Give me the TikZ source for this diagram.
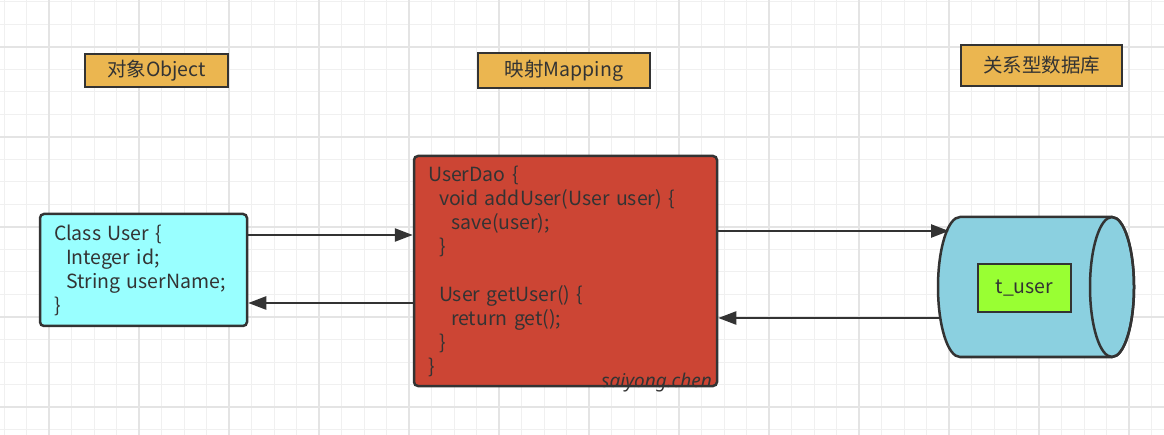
\documentclass[tikz,border=0pt]{standalone}
\usepackage{fontspec}
\setmainfont{Noto Sans CJK SC}
\newfontfamily\wmfont{Noto Sans}
\usetikzlibrary{arrows.meta}
\definecolor{ink}{HTML}{333333}
\definecolor{headfill}{HTML}{EBB650}
\definecolor{daofill}{HTML}{CC4534}
\definecolor{clsfill}{HTML}{99FFFF}
\definecolor{dbfill}{HTML}{8BD0E0}
\definecolor{tufill}{HTML}{99FF33}
\definecolor{gridminor}{HTML}{F0F0F0}
\definecolor{gridmajor}{HTML}{E4E4E4}
\begin{document}
\begin{tikzpicture}[x=1pt,y=-1pt,
  hdr/.style={draw=ink, line width=2.5pt, fill=headfill, inner sep=0pt, text=ink,
    font=\fontsize{19.5}{22}\selectfont},
  codebox/.style={draw=ink, line width=2.5pt, rounded corners=4pt, inner xsep=14pt, inner ysep=0pt,
    align=left, text=ink, font=\fontsize{19.5}{24}\selectfont},
  arr/.style={draw=ink, line width=2.4pt, -{Triangle[length=18pt,width=13pt]}},
  minorline/.style={draw=gridminor, line width=1pt},
  majorline/.style={draw=gridmajor, line width=1.2pt}]
\useasboundingbox (0,0) rectangle (1164,435);
\fill[white] (0,0) rectangle (1164,435);
\foreach \i in {0,...,52} {
  \draw[minorline] ({4+22.5*\i},0) -- ({4+22.5*\i},435);
}
\foreach \i in {0,...,19} {
  \draw[minorline] (0,{2+22.5*\i}) -- (1164,{2+22.5*\i});
}
\foreach \i in {0,...,12} {
  \draw[majorline] ({49+90*\i},0) -- ({49+90*\i},435);
}
\foreach \i in {0,...,4} {
  \draw[majorline] (0,{47+90*\i}) -- (1164,{47+90*\i});
}

\node[hdr, minimum width=143pt, minimum height=33pt] (obj) at (156.5,70.5) {对象Object};
\node[hdr, minimum width=172pt, minimum height=35pt] (map) at (564,70.5) {映射Mapping};
\node[hdr, minimum width=161pt, minimum height=41pt] (rdb) at (1041.5,65.5) {关系型数据库};

\node[codebox, fill=clsfill, minimum width=207pt, minimum height=112pt, text width=179pt] (cls) at (143.5,270)
  {Class User \{\\\hspace*{12pt}Integer id;\\\hspace*{12pt}String userName;\\\}};

\node[codebox, fill=daofill, minimum width=303pt, minimum height=230pt, text width=275pt] (dao) at (565.5,271)
  {UserDao \{\\
   \hspace*{11pt}void addUser(User user) \{\\
   \hspace*{23pt}save(user);\\
   \hspace*{11pt}\}\\[24pt]
   \hspace*{11pt}User getUser() \{\\
   \hspace*{23pt}return get();\\
   \hspace*{11pt}\}\\
   \}};

\node[anchor=base east, inner sep=0pt, text=ink, font=\wmfont\itshape\fontsize{19}{19}\selectfont] (wm) at (712,387) {saiyong.chen};

% cylinder (database)
\filldraw[draw=ink, fill=dbfill, line width=2.5pt]
  (960,217) -- (1112,217) arc[start angle=90, end angle=-90, x radius=22pt, y radius=70pt]
  -- (960,357) arc[start angle=270, end angle=90, x radius=22pt, y radius=70pt] -- cycle;
\draw[draw=ink, line width=2.5pt] (1112,287) ellipse[x radius=22pt, y radius=70pt];
\node[draw=ink, line width=2.5pt, fill=tufill, minimum width=93pt, minimum height=48pt, text=ink,
  font=\fontsize{19.5}{22}\selectfont] (tu) at (1024.5,288) {t\_user};

\coordinate (ya) at (0,235);
\coordinate (yb) at (0,303);
\coordinate (yc) at (0,231);
\coordinate (yd) at (0,318);
\coordinate (dbin) at (949,231);
\coordinate (dbout) at (940,318);
\draw[arr] (cls.east |- ya) -- (dao.west |- ya);
\draw[arr] (dao.west |- yb) -- (cls.east |- yb);
\draw[arr] (dao.east |- yc) -- (dbin);
\draw[arr] (dbout) -- (dao.east |- yd);
\end{tikzpicture}
\end{document}
